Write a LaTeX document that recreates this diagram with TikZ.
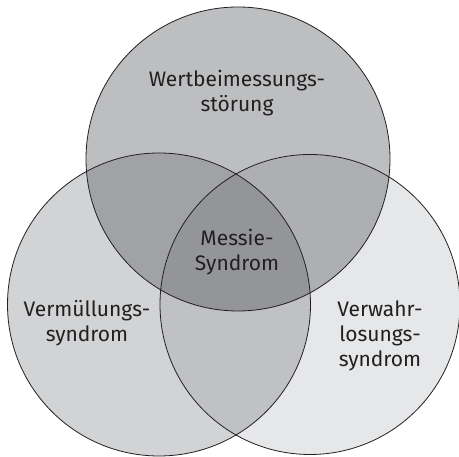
\documentclass[tikz,border=0pt]{standalone}
\usepackage{fontspec}
\setmainfont{Fira Sans}
\begin{document}
\begin{tikzpicture}[x=1pt,y=1pt]
\definecolor{gtop}{HTML}{BCBEC0}\definecolor{gleft}{HTML}{D1D3D4}\definecolor{gright}{HTML}{E6E7E8}
\definecolor{gtl}{HTML}{A0A2A5}\definecolor{gtr}{HTML}{AEAFB2}\definecolor{glr}{HTML}{C0C1C4}
\definecolor{gall}{HTML}{939598}\definecolor{ctext}{HTML}{231F20}
\tikzset{ring/.style={draw=ctext,line width=0.8pt},
 lbl/.style={align=center,text=ctext,font=\fontsize{21}{25}\selectfont,inner sep=0pt}}
\useasboundingbox (0,0) rectangle (459,457);
\coordinate (ctop) at (238,298);
\coordinate (cleft) at (159,152.5);
\coordinate (cright) at (310,152.5);
% fills
\fill[gtop] (ctop) circle (152pt);
\fill[gleft] (cleft) circle (151.5pt);
\fill[gright] (cright) circle (150pt);
\begin{scope}\clip (ctop) circle (152pt);\fill[gtl] (cleft) circle (151.5pt);\end{scope}
\begin{scope}\clip (ctop) circle (152pt);\fill[gtr] (cright) circle (150pt);\end{scope}
\begin{scope}\clip (cleft) circle (151.5pt);\fill[glr] (cright) circle (150pt);\end{scope}
\begin{scope}\clip (ctop) circle (152pt);\clip (cleft) circle (151.5pt);\fill[gall] (cright) circle (150pt);\end{scope}
% outlines
\draw[ring] (ctop) circle (152pt);
\draw[ring] (cleft) circle (151.5pt);
\draw[ring] (cright) circle (150pt);
% labels
\node[lbl] (wert) at (237,364) {Wertbeimessungs-\\störung};
\node[lbl] (messie) at (237,205) {Messie-\\Syndrom};
\node[lbl] (verm) at (87,134) {Vermüllungs-\\syndrom};
\node[lbl] (verw) at (380,121) {Verwahr-\\losungs-\\syndrom};
\end{tikzpicture}
\end{document}
